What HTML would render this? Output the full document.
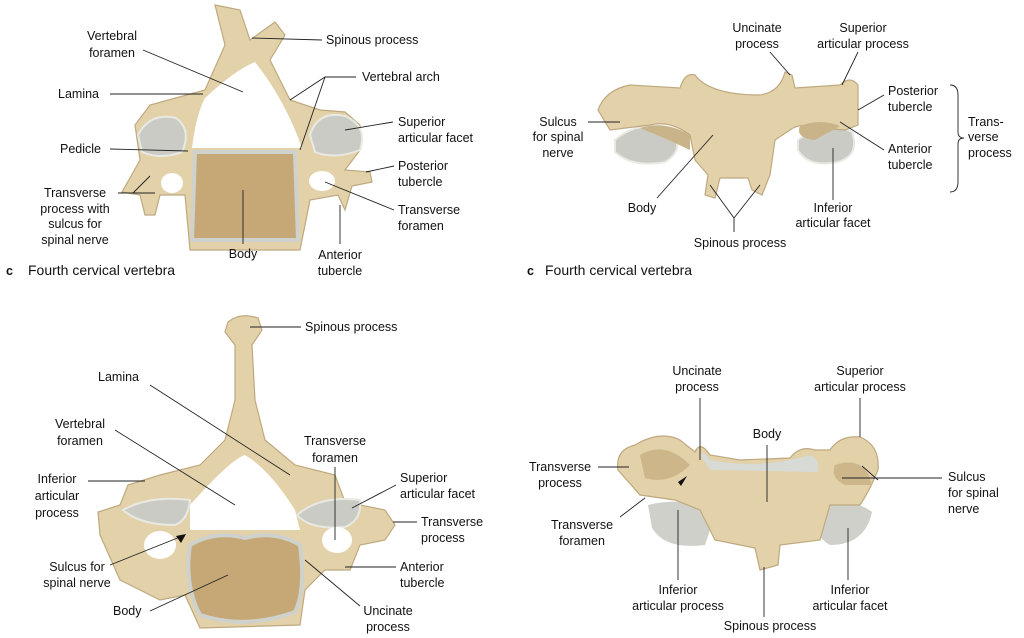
<!DOCTYPE html>
<html><head><meta charset="utf-8"><style>
html,body{margin:0;padding:0;background:#fff;}
svg{display:block;}
text{font-family:"Liberation Sans",sans-serif;font-size:12.5px;fill:#111;}
.c{text-anchor:middle;}
.l{stroke:#222;stroke-width:0.9;fill:none;}
.b{fill:#e2d1a9;stroke:#bfa97f;stroke-width:1.2;}
.f{fill:#c9cbc4;stroke:#e9e9e3;stroke-width:2;}
.body{fill:#c6a877;stroke:#cfd2cc;stroke-width:4;}
</style></head><body>
<svg width="1024" height="638" viewBox="0 0 1024 638" xmlns="http://www.w3.org/2000/svg">
<!-- ===== Top-left vertebra ===== -->
<path class="b" d="M215,5 L240,10 L250,40 L275,22 L285,35 L270,60 L290,100 L320,110 L345,112 L360,125 L360,150 L345,170 L370,172 L372,182 L352,186 L345,210 L338,195 L310,200 L300,250 L190,250 L185,195 L160,195 L155,215 L145,215 L140,195 L122,192 L130,178 L140,160 L135,125 L150,105 L205,90 L225,45 Z"/>
<path fill="#fff" d="M205,98 Q235,70 255,62 Q285,100 302,148 L192,148 Q196,115 205,98 Z"/>
<path class="f" d="M138,135 Q150,112 176,118 Q192,130 182,152 Q160,160 142,152 Z"/>
<path class="f" d="M310,135 Q318,110 345,116 Q368,126 360,150 Q335,160 315,152 Z"/>
<ellipse cx="172" cy="183" rx="11" ry="10" fill="#fff"/>
<ellipse cx="322" cy="181" rx="13" ry="10" fill="#fff"/>
<path class="body" d="M195,152 L295,152 L298,240 L192,240 Z"/>
<text class="c" x="112" y="40">Vertebral</text><text class="c" x="112" y="57">foramen</text>
<path class="l" d="M143,50 L243,92"/>
<text x="326" y="44">Spinous process</text><path class="l" d="M322,40 L252,38"/>
<text x="362" y="81">Vertebral arch</text><path class="l" d="M356,77 L325,77 L290,100 M325,77 L300,150"/>
<text x="58" y="98">Lamina</text><path class="l" d="M110,94 L203,94"/>
<text x="398" y="126">Superior</text><text x="398" y="142">articular facet</text><path class="l" d="M393,122 L345,130"/>
<text x="60" y="153">Pedicle</text><path class="l" d="M110,149 L188,151"/>
<text x="398" y="170">Posterior</text><text x="398" y="186">tubercle</text><path class="l" d="M394,166 L366,172"/>
<text class="c" x="75" y="197">Transverse</text><text class="c" x="75" y="213">process with</text><text class="c" x="75" y="228">sulcus for</text><text class="c" x="75" y="244">spinal nerve</text>
<path class="l" d="M118,193 L133,193 L150,176 M133,193 L155,193"/>
<text x="398" y="214">Transverse</text><text x="398" y="230">foramen</text><path class="l" d="M394,210 L325,182"/>
<text class="c" x="243" y="258">Body</text><path class="l" d="M243,244 L243,190"/>
<text class="c" x="340" y="259">Anterior</text><text class="c" x="340" y="275">tubercle</text><path class="l" d="M340,244 L340,205"/>
<text x="6" y="275" style="font-weight:bold">c</text><text x="28" y="275" style="font-size:14px">Fourth cervical vertebra</text>

<!-- ===== Top-right vertebra ===== -->
<path class="f" d="M615,140 Q640,118 672,132 Q685,150 665,162 Q632,168 615,152 Z"/>
<path class="f" d="M798,140 Q828,118 852,132 Q860,155 838,162 Q808,168 798,150 Z"/>
<path class="b" d="M598,110 Q605,90 630,85 L680,88 Q685,72 695,75 Q710,95 760,95 Q780,92 785,72 L792,75 L795,88 L840,85 Q850,75 858,85 L858,125 L845,130 L820,128 Q800,122 790,130 L775,140 L770,175 L762,195 L752,190 L748,178 L720,178 L715,198 L705,195 L708,175 L695,160 L690,135 Q670,120 650,125 L610,130 Z"/>
<path fill="#c9b48a" d="M640,128 Q665,120 690,135 L690,150 Q665,138 640,128Z M800,126 Q820,118 840,126 L815,140 Q795,138 800,126Z"/>
<path d="M950,85 Q958,85 958,95 L958,132 Q958,138 964,138 Q958,138 958,144 L958,182 Q958,192 950,192" class="l"/>
<text class="c" x="757" y="32">Uncinate</text><text class="c" x="757" y="48">process</text><path class="l" d="M770,52 L790,75"/>
<text class="c" x="863" y="32">Superior</text><text class="c" x="863" y="48">articular process</text><path class="l" d="M858,52 L842,85"/>
<text x="888" y="95">Posterior</text><text x="888" y="111">tubercle</text><path class="l" d="M884,95 L858,110"/>
<text class="c" x="558" y="126">Sulcus</text><text class="c" x="558" y="141">for spinal</text><text class="c" x="558" y="157">nerve</text><path class="l" d="M588,122 L620,122"/>
<text x="968" y="126">Trans-</text><text x="968" y="141">verse</text><text x="968" y="157">process</text>
<text x="888" y="153">Anterior</text><text x="888" y="169">tubercle</text><path class="l" d="M884,150 L840,122"/>
<text class="c" x="642" y="212">Body</text><path class="l" d="M657,198 L713,135"/>
<text class="c" x="833" y="212">Inferior</text><text class="c" x="833" y="227">articular facet</text><path class="l" d="M833,200 L833,148"/>
<text class="c" x="740" y="247">Spinous process</text><path class="l" d="M734,232 L734,218 L710,185 M734,218 L760,185"/>
<text x="527" y="275" style="font-weight:bold">c</text><text x="545" y="275" style="font-size:14px">Fourth cervical vertebra</text>

<!-- ===== Bottom-left vertebra ===== -->
<path class="b" d="M228,322 Q240,312 258,318 L262,330 L252,345 L255,400 L265,440 L295,465 L335,475 L345,502 L385,510 L395,525 L385,540 L360,545 L350,570 L325,570 L305,590 L300,625 L200,628 L185,595 L160,600 L120,580 L100,535 L98,512 L120,505 L128,485 L160,475 L200,465 L225,440 L235,400 L235,345 L225,332 Z"/>
<path fill="#fff" d="M190,505 Q230,460 245,455 Q270,470 295,510 L300,530 L190,530 Z"/>
<path class="f" d="M123,510 Q150,495 190,500 Q188,520 175,525 Q140,525 123,510 Z"/>
<path class="f" d="M297,515 Q320,495 360,500 Q362,520 345,527 Q310,530 297,515 Z"/>
<ellipse cx="160" cy="545" rx="16" ry="14" fill="#fff"/>
<ellipse cx="337" cy="540" rx="15" ry="13" fill="#fff"/>
<path class="body" d="M190,545 Q215,530 245,538 Q275,530 300,545 Q306,590 295,612 Q245,630 200,615 Q184,585 190,545 Z"/>
<text x="305" y="331">Spinous process</text><path class="l" d="M301,327 L250,327"/>
<text x="98" y="381">Lamina</text><path class="l" d="M150,385 L290,475"/>
<text class="c" x="80" y="428">Vertebral</text><text class="c" x="80" y="445">foramen</text><path class="l" d="M115,430 L235,505"/>
<text class="c" x="335" y="445">Transverse</text><text class="c" x="335" y="462">foramen</text><path class="l" d="M335,467 L335,540"/>
<text class="c" x="57" y="483">Inferior</text><text class="c" x="57" y="500">articular</text><text class="c" x="57" y="517">process</text><path class="l" d="M88,481 L145,481"/>
<text x="400" y="482">Superior</text><text x="400" y="498">articular facet</text><path class="l" d="M396,485 L352,508"/>
<text x="421" y="526">Transverse</text><text x="421" y="542">process</text><path class="l" d="M417,522 L393,522"/>
<text class="c" x="77" y="571">Sulcus for</text><text class="c" x="77" y="587">spinal nerve</text><path class="l" d="M110,565 L180,537"/>
<path d="M186,534 L176,536 L181,543 Z" fill="#111"/>
<text x="400" y="571">Anterior</text><text x="400" y="587">tubercle</text><path class="l" d="M396,567 L345,567"/>
<text x="113" y="615">Body</text><path class="l" d="M150,611 L228,575"/>
<text class="c" x="388" y="615">Uncinate</text><text class="c" x="388" y="631">process</text><path class="l" d="M360,606 L305,560"/>

<!-- ===== Bottom-right vertebra ===== -->
<path fill="#cfd0c9" d="M648,505 Q690,495 715,515 L705,545 Q665,550 652,528 Z M815,505 Q855,498 872,512 Q865,545 830,545 Q808,532 815,505 Z"/>
<path class="b" d="M618,470 Q615,450 635,445 Q660,430 680,440 L695,452 Q700,440 710,455 L740,460 L790,458 Q800,445 815,450 L830,450 Q840,435 860,437 Q880,445 878,470 Q870,490 860,505 L830,505 L820,540 L780,545 L778,565 L760,570 L755,548 L715,540 L700,510 L675,500 L640,495 Z"/>
<path fill="#d7dad5" d="M700,455 Q705,450 710,460 Q760,470 810,455 Q820,460 818,472 L710,470 Z"/>
<path fill="#cdb689" d="M640,455 Q665,440 690,465 Q670,485 645,478 Z M835,465 Q865,455 872,485 L845,485 Q830,478 835,465 Z"/>
<path d="M687,476 L678,482 L681,486 Z" fill="#111"/>
<text class="c" x="697" y="375">Uncinate</text><text class="c" x="697" y="391">process</text><path class="l" d="M700,398 L700,460"/>
<text class="c" x="860" y="375">Superior</text><text class="c" x="860" y="391">articular process</text><path class="l" d="M860,398 L860,437"/>
<text class="c" x="767" y="438">Body</text><path class="l" d="M767,445 L767,502"/>
<text class="c" x="560" y="471">Transverse</text><text class="c" x="560" y="487">process</text><path class="l" d="M598,467 L629,467"/>
<text x="948" y="481">Sulcus</text><text x="948" y="497">for spinal</text><text x="948" y="513">nerve</text><path class="l" d="M942,478 L842,478 M862,466 L878,480"/>
<text class="c" x="582" y="529">Transverse</text><text class="c" x="582" y="545">foramen</text><path class="l" d="M620,517 L645,498"/>
<text class="c" x="678" y="594">Inferior</text><text class="c" x="678" y="610">articular process</text><path class="l" d="M678,580 L678,510"/>
<text class="c" x="850" y="594">Inferior</text><text class="c" x="850" y="610">articular facet</text><path class="l" d="M848,580 L848,528"/>
<text class="c" x="770" y="630">Spinous process</text><path class="l" d="M764,617 L764,567"/>
</svg>
</body></html>
